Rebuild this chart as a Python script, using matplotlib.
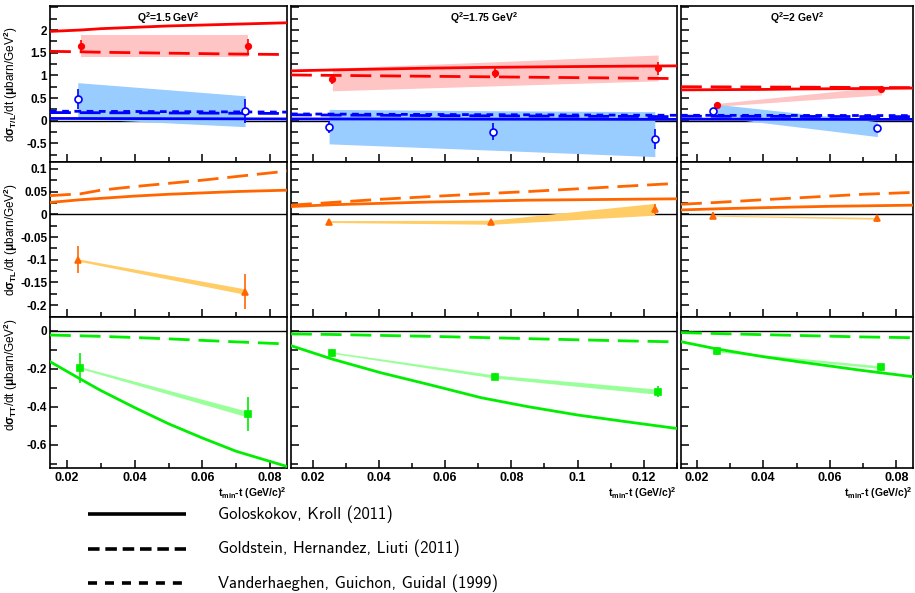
import numpy as np
import matplotlib
matplotlib.use("Agg")
import matplotlib.pyplot as plt
from matplotlib.ticker import MultipleLocator, FuncFormatter

plt.rcParams['font.family'] = ['Liberation Sans', 'DejaVu Sans']
plt.rcParams['font.weight'] = 'bold'
plt.rcParams['axes.unicode_minus'] = False
plt.rcParams['mathtext.fontset'] = 'custom'
plt.rcParams['mathtext.rm'] = 'Liberation Sans:bold'
plt.rcParams['mathtext.it'] = 'Liberation Sans:bold'
plt.rcParams['mathtext.bf'] = 'Liberation Sans:bold'
plt.rcParams['mathtext.sf'] = 'Liberation Sans:bold'
plt.rcParams['mathtext.default'] = 'rm'

############################################
# DATA  (one entry per Q^2 bin)
############################################

Q2_LABELS = ["Q$^2$=1.5 GeV$^2$", "Q$^2$=1.75 GeV$^2$", "Q$^2$=2 GeV$^2$"]

# measured points: sigma_T (red), sigma_L (blue), sigma_TL (orange), sigma_TT (green)
t_T = [[0.0243, 0.0734], [0.0260, 0.0752, 0.1243], [0.0261, 0.0755]]
sigT = [[1.65, 1.64], [0.91, 1.06, 1.16], [0.35, 0.69]]
sigT_err = [[0.14, 0.16], [0.105, 0.12, 0.145], [0.03, 0.05]]
sigT_sys_lo = [[1.41, 1.41], [0.66, 0.77, 0.88], [0.32, 0.57]]
sigT_sys_hi = [[1.89, 1.89], [1.16, 1.30, 1.45], [0.38, 0.75]]

t_L = [[0.0232, 0.0726], [0.0250, 0.0745, 0.1233], [0.0250, 0.0743]]
sigL = [[0.48, 0.22], [-0.13, -0.24, -0.40], [0.22, -0.17]]
sigL_err = [[0.23, 0.27], [0.13, 0.19, 0.22], [0.06, 0.08]]
sigL_sys_lo = [[0.05, -0.13], [-0.51, -0.65, -0.79], [0.09, -0.35]]
sigL_sys_hi = [[0.84, 0.55], [0.25, 0.22, 0.20], [0.37, -0.02]]

t_TL = [[0.0232, 0.0725], [0.0249, 0.0740, 0.1233], [0.0250, 0.0743]]
sigTL = [[-0.100, -0.170], [-0.016, -0.018, 0.011], [-0.003, -0.009]]
sigTL_err = [[0.030, 0.038], [0.005, 0.006, 0.011], [0.007, 0.007]]
sigTL_sys_lo = [[-0.103, -0.176], [-0.018, -0.022, -0.002], [-0.004, -0.011]]
sigTL_sys_hi = [[-0.098, -0.164], [-0.014, -0.013, 0.024], [-0.002, -0.007]]

t_TT = [[0.0240, 0.0734], [0.0260, 0.0752, 0.1243], [0.0262, 0.0755]]
sigTT = [[-0.195, -0.44], [-0.116, -0.242, -0.321], [-0.108, -0.193]]
sigTT_err = [[0.08, 0.09], [0.02, 0.02, 0.03], [0.02, 0.02]]
sigTT_sys_lo = [[-0.200, -0.455], [-0.120, -0.250, -0.335], [-0.112, -0.200]]
sigTT_sys_hi = [[-0.190, -0.425], [-0.112, -0.234, -0.308], [-0.104, -0.186]]

# model curves
t_model = [
    [0.015, 0.024, 0.03, 0.04, 0.05, 0.06, 0.07, 0.085],
    [0.0135, 0.026, 0.0405, 0.0557, 0.0709, 0.085, 0.1, 0.115, 0.13],
    [0.0153, 0.026, 0.04, 0.05, 0.06, 0.07, 0.0848],
]
gk_T = [
    [1.97, 2.00, 2.03, 2.06, 2.09, 2.11, 2.13, 2.16],
    [1.10, 1.12, 1.14, 1.16, 1.175, 1.185, 1.195, 1.203, 1.21],
    [0.68, 0.685, 0.69, 0.70, 0.705, 0.71, 0.72],
]
ghl_T = [
    [1.53, 1.52, 1.51, 1.50, 1.49, 1.48, 1.47, 1.46],
    [1.01, 1.00, 0.99, 0.98, 0.97, 0.96, 0.95, 0.94, 0.93],
    [0.75, 0.747, 0.743, 0.74, 0.737, 0.733, 0.73],
]
gk_L = [
    [0.05, 0.049, 0.048, 0.047, 0.045, 0.044, 0.042, 0.04],
    [0.04, 0.039, 0.038, 0.037, 0.035, 0.034, 0.033, 0.031, 0.03],
    [0.035, 0.034, 0.033, 0.032, 0.031, 0.03, 0.03],
]
ghl_L = [
    [0.18, 0.178, 0.176, 0.174, 0.171, 0.168, 0.165, 0.16],
    [0.13, 0.125, 0.12, 0.114, 0.109, 0.104, 0.099, 0.095, 0.09],
    [0.10, 0.099, 0.097, 0.095, 0.094, 0.092, 0.09],
]
vgg_L = [
    [0.21, 0.208, 0.206, 0.204, 0.201, 0.198, 0.195, 0.19],
    [0.15, 0.146, 0.142, 0.138, 0.134, 0.131, 0.127, 0.123, 0.12],
    [0.12, 0.119, 0.118, 0.117, 0.116, 0.115, 0.113],
]
gk_TL = [
    [0.026, 0.032, 0.035, 0.040, 0.044, 0.047, 0.050, 0.053],
    [0.017, 0.021, 0.024, 0.027, 0.029, 0.031, 0.032, 0.033, 0.034],
    [0.0095, 0.012, 0.0145, 0.016, 0.0175, 0.0185, 0.020],
]
ghl_TL = [
    [0.041, 0.045, 0.053, 0.061, 0.068, 0.075, 0.083, 0.095],
    [0.020, 0.026, 0.033, 0.039, 0.045, 0.050, 0.056, 0.062, 0.068],
    [0.022, 0.026, 0.032, 0.036, 0.040, 0.044, 0.048],
]
gk_TT = [
    [-0.163, -0.255, -0.315, -0.405, -0.49, -0.565, -0.635, -0.715],
    [-0.079, -0.150, -0.221, -0.286, -0.353, -0.400, -0.444, -0.480, -0.515],
    [-0.058, -0.096, -0.137, -0.162, -0.186, -0.210, -0.242],
]
ghl_TT = [
    [-0.023, -0.027, -0.030, -0.036, -0.043, -0.051, -0.059, -0.070],
    [-0.017, -0.020, -0.025, -0.030, -0.036, -0.042, -0.048, -0.054, -0.059],
    [-0.010, -0.015, -0.021, -0.025, -0.029, -0.033, -0.037],
]

LEGEND_LABELS = ["Goloskokov, Kroll (2011)",
                 "Goldstein, Hernandez, Liuti (2011)",
                 "Vanderhaeghen, Guichon, Guidal (1999)"]

############################################
# STYLE
############################################

RED, RED_BAND = "#ff0000", "#ffc4c4"
BLUE, BLUE_BAND = "#0000ff", "#99ccff"
ORANGE, ORANGE_BAND = "#ff6600", "#ffcc66"
GREEN, GREEN_BAND = "#00ee00", "#99ff99"

SOLID = "-"
DASHED = (0, (7.5, 3.2))
DOTTED = (0, (2.4, 2.0))
LW = 2.0

W, H = 915, 593
COLS = [(50, 287), (291, 677), (681, 913)]
ROWS = [(6, 162), (162, 317), (317, 468)]
XLIMS = [(0.015, 0.085), (0.0135, 0.13), (0.0153, 0.085)]
YLIMS = [(-0.91, 2.53), (-0.226, 0.115), (-0.723, 0.072)]
YMAJ = [0.5, 0.05, 0.2]
YMIN = [0.25, 0.025, 0.1]
YTOP_LABEL = [2.0, 0.1, 0.0]
YLABELS = [r"d$\sigma_{T/L}$/dt ($\mu$barn/GeV$^2$)",
           r"d$\sigma_{TL}$/dt ($\mu$barn/GeV$^2$)",
           r"d$\sigma_{TT}$/dt ($\mu$barn/GeV$^2$)"]
YLABEL_POS = [0.5, 0.5, 0.62]


def make_fmt(top):
    # ROOT leaves off a label that sits on the frame edge
    return FuncFormatter(lambda v, p: "" if v > top + 1e-9 else "%g" % round(v, 4))


def make_axes(fig, col, row):
    x0, x1 = COLS[col]
    y0, y1 = ROWS[row]
    ax = fig.add_axes([x0 / W, 1 - y1 / H, (x1 - x0) / W, (y1 - y0) / H])
    ax.set_xlim(*XLIMS[col])
    ax.set_ylim(*YLIMS[row])
    for s in ax.spines.values():
        s.set_linewidth(1.2)
    ax.xaxis.set_major_locator(MultipleLocator(0.02))
    ax.xaxis.set_minor_locator(MultipleLocator(0.01))
    ax.yaxis.set_major_locator(MultipleLocator(YMAJ[row]))
    ax.yaxis.set_minor_locator(MultipleLocator(YMIN[row]))
    ax.tick_params(which="both", direction="in", top=False, right=False, width=1.1)
    ax.tick_params(which="major", length=6)
    ax.tick_params(which="minor", length=3.5)
    ax.tick_params(axis="y", which="minor", length=5)
    ax.xaxis.set_major_formatter(FuncFormatter(lambda v, p: "%g" % round(v, 4)))
    ax.yaxis.set_major_formatter(make_fmt(YTOP_LABEL[row]))
    ax.tick_params(axis="y", labelsize=8.5, pad=2)
    ax.tick_params(axis="x", labelsize=9, pad=3)
    if col > 0:
        ax.tick_params(axis="y", labelleft=False)
    if row < 2:
        ax.tick_params(axis="x", labelbottom=False)
    ax.axhline(0, color="black", lw=1.0, zorder=1)
    return ax


def draw_points(ax, t, y, err, lo, hi, color, band, marker, mfc, ms):
    ax.fill_between(t, lo, hi, color=band, lw=0, zorder=2)
    ax.errorbar(t, y, yerr=err, fmt=marker, color=color, mfc=mfc, mec=color,
                ms=ms, mew=1.2, elinewidth=1.2, capsize=0, zorder=5)


fig = plt.figure(figsize=(W / 100, H / 100), dpi=100)

for c in range(3):
    tm = t_model[c]

    # sigma_T and sigma_L
    ax = make_axes(fig, c, 0)
    draw_points(ax, t_T[c], sigT[c], sigT_err[c], sigT_sys_lo[c], sigT_sys_hi[c],
                RED, RED_BAND, "o", RED, 4)
    draw_points(ax, t_L[c], sigL[c], sigL_err[c], sigL_sys_lo[c], sigL_sys_hi[c],
                BLUE, BLUE_BAND, "o", "white", 5)
    ax.plot(tm, gk_T[c], color=RED, lw=LW, ls=SOLID, zorder=3)
    ax.plot(tm, ghl_T[c], color=RED, lw=LW, ls=DASHED, zorder=3)
    ax.plot(tm, gk_L[c], color=BLUE, lw=LW, ls=SOLID, zorder=3)
    ax.plot(tm, ghl_L[c], color=BLUE, lw=LW, ls=DASHED, zorder=3)
    ax.plot(tm, vgg_L[c], color=BLUE, lw=LW, ls=DOTTED, zorder=3)
    ax.text(0.5, 0.975, Q2_LABELS[c], transform=ax.transAxes, ha="center",
            va="top", fontsize=7.5, fontweight="bold")
    if c == 0:
        ax.set_ylabel(YLABELS[0], fontsize=8.5)

    # sigma_TL
    ax = make_axes(fig, c, 1)
    draw_points(ax, t_TL[c], sigTL[c], sigTL_err[c], sigTL_sys_lo[c], sigTL_sys_hi[c],
                ORANGE, ORANGE_BAND, "^", ORANGE, 5)
    ax.plot(tm, gk_TL[c], color=ORANGE, lw=LW, ls=SOLID, zorder=3)
    ax.plot(tm, ghl_TL[c], color=ORANGE, lw=LW, ls=DASHED, zorder=3)
    if c == 0:
        ax.set_ylabel(YLABELS[1], fontsize=8.5)

    # sigma_TT
    ax = make_axes(fig, c, 2)
    draw_points(ax, t_TT[c], sigTT[c], sigTT_err[c], sigTT_sys_lo[c], sigTT_sys_hi[c],
                GREEN, GREEN_BAND, "s", GREEN, 4)
    ax.plot(tm, gk_TT[c], color=GREEN, lw=LW, ls=SOLID, zorder=3)
    ax.plot(tm, ghl_TT[c], color=GREEN, lw=LW, ls=DASHED, zorder=3)
    ax.text(1.0, -0.115, r"t$_{min}$-t (GeV/c)$^2$", transform=ax.transAxes,
            ha="right", va="top", fontsize=7.5, fontweight="bold")
    if c == 0:
        ax.set_ylabel(YLABELS[2], fontsize=8.5)

for r, ax in enumerate([a for a in fig.axes if a.get_ylabel()]):
    ax.yaxis.set_label_coords(-0.125, YLABEL_POS[r])

# legend block below the panels
lax = fig.add_axes([0, 0, 1, 1 - 490 / H])
lax.set_xlim(0, W)
lax.set_ylim(H, 490)
lax.axis("off")
styles = [SOLID, (0, (3.2, 1.6)), (0, (2.5, 2.2))]
for i, (lab, ls) in enumerate(zip(LEGEND_LABELS, styles)):
    yy = 514 + i * 34.5
    lax.plot([88, 186], [yy, yy], color="black", lw=2.6, ls=ls,
             solid_capstyle="butt", dash_capstyle="butt")
    lax.text(218, yy, lab, fontsize=12, va="center", ha="left",
             family="cmss10", fontweight="normal")

fig.savefig("out.png", dpi=100)
